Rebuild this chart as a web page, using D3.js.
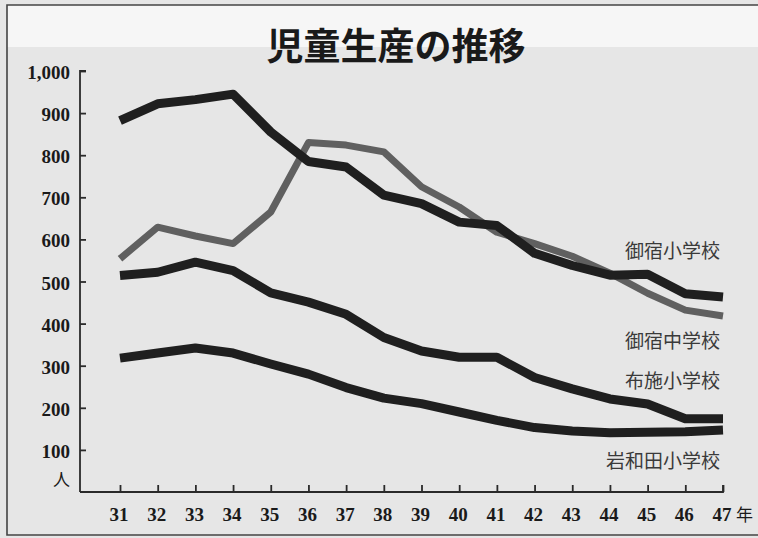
<!DOCTYPE html>
<html>
<head>
<meta charset="utf-8">
<script src="https://cdn.jsdelivr.net/npm/d3@7"></script>
<style>
	body { margin: 0; background: #fff; }
	svg { display: block; }
</style>
</head>
<body>
<script>
var years = [31, 32, 33, 34, 35, 36, 37, 38, 39, 40, 41, 42, 43, 44, 45, 46, 47];
var yTicks = [100, 200, 300, 400, 500, 600, 700, 800, 900, 1000];

var onjukuSho = [882, 922, 932, 945, 855, 785, 772, 705, 685, 641, 633, 567, 538, 515, 517, 471, 463];
var onjukuChu = [554, 629, 608, 590, 665, 830, 824, 808, 725, 677, 617, 590, 560, 520, 472, 432, 418];
var fuseSho = [514, 522, 546, 526, 473, 451, 422, 367, 335, 320, 320, 272, 245, 221, 209, 174, 174];
var iwawadaSho = [318, 330, 342, 330, 304, 280, 248, 223, 210, 190, 170, 153, 145, 141, 142, 143, 147];

var series = [
	{name: "御宿中学校", values: onjukuChu, color: "#606060", width: 7, lx: 720, ly: 348},
	{name: "御宿小学校", values: onjukuSho, color: "#1f1f1f", width: 9, lx: 720, ly: 258},
	{name: "布施小学校", values: fuseSho, color: "#1f1f1f", width: 9, lx: 720, ly: 388},
	{name: "岩和田小学校", values: iwawadaSho, color: "#1f1f1f", width: 9, lx: 720, ly: 468}
];

var W = 758, H = 538;
var svg = d3.select("body").append("svg")
	.attr("width", W)
	.attr("height", H);

// paper
svg.append("rect").attr("width", W).attr("height", H).attr("fill", "#e6e6e6");
svg.append("rect").attr("x", 7).attr("y", 5).attr("width", W - 7).attr("height", 42).attr("fill", "#f6f6f6");
svg.append("path")
	.attr("d", "M" + W + ",5H7V535H" + W)
	.attr("fill", "none")
	.attr("stroke", "#444")
	.attr("stroke-width", 1.6);

var x = d3.scaleLinear().domain([31, 47]).range([120, 723]);
var y = d3.scaleLinear().domain([0, 1000]).range([492, 71]);

var numFont = "'Liberation Serif', 'DejaVu Serif', serif";
var jpFont = "'Noto Sans CJK JP', sans-serif";

// title
svg.append("text")
	.attr("x", 396)
	.attr("y", 60)
	.attr("text-anchor", "middle")
	.style("font-family", jpFont)
	.style("font-weight", "bold")
	.style("font-size", "37px")
	.attr("fill", "#1a1a1a")
	.text("児童生産の推移");

// axes
var xAxis = svg.append("g")
	.attr("transform", "translate(0," + y(0) + ")")
	.call(d3.axisTop(x).tickValues(years).tickSize(7).tickFormat(""));
xAxis.select(".domain").attr("d", "M80,0H" + x(47) + "V-7");

var yAxis = svg.append("g")
	.attr("transform", "translate(80,0)")
	.call(d3.axisRight(y).tickValues(yTicks).tickSize(6).tickFormat(""));
yAxis.select(".domain").attr("d", "M6," + y(1000) + "H0V" + y(0));

svg.selectAll(".domain, .tick line")
	.attr("stroke", "#2a2a2a")
	.attr("stroke-width", 1.8);

svg.selectAll(".xlab")
	.data(years)
	.enter().append("text")
	.attr("x", function(d) { return x(d) - 1; })
	.attr("y", 521)
	.attr("text-anchor", "middle")
	.style("font-family", numFont)
	.style("font-weight", "bold")
	.style("font-size", "19px")
	.attr("fill", "#1a1a1a")
	.text(String);

svg.append("text")
	.attr("x", 736).attr("y", 521)
	.style("font-family", jpFont)
	.style("font-size", "17px")
	.attr("fill", "#1a1a1a")
	.text("年");

svg.selectAll(".ylab")
	.data(yTicks)
	.enter().append("text")
	.attr("x", 70)
	.attr("y", function(d) { return y(d) + 8; })
	.attr("text-anchor", "end")
	.style("font-family", numFont)
	.style("font-weight", "bold")
	.style("font-size", "19px")
	.attr("fill", "#1a1a1a")
	.text(d3.format(","));

svg.append("text")
	.attr("x", 70).attr("y", 486)
	.attr("text-anchor", "end")
	.style("font-family", jpFont)
	.style("font-size", "17px")
	.attr("fill", "#1a1a1a")
	.text("人");

// lines
var line = d3.line()
	.x(function(d, i) { return x(years[i]); })
	.y(function(d) { return y(d); });

svg.selectAll(".series")
	.data(series)
	.enter().append("path")
	.attr("d", function(d) { return line(d.values); })
	.attr("fill", "none")
	.attr("stroke", function(d) { return d.color; })
	.attr("stroke-width", function(d) { return d.width; })
	.attr("stroke-linejoin", "round");

svg.selectAll(".name")
	.data(series)
	.enter().append("text")
	.attr("x", function(d) { return d.lx; })
	.attr("y", function(d) { return d.ly; })
	.attr("text-anchor", "end")
	.style("font-family", jpFont)
	.style("font-size", "19px")
	.attr("fill", "#3a3a3a")
	.text(function(d) { return d.name; });
</script>
</body>
</html>
